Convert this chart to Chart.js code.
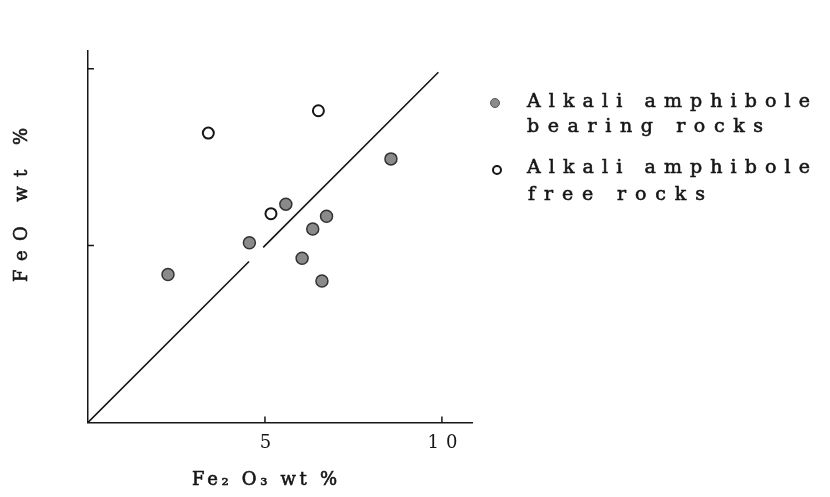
<!DOCTYPE html>
<html>
<head>
<meta charset="utf-8">
<script src="https://cdn.jsdelivr.net/npm/chart.js@4"></script>
<style>
  html, body { margin: 0; padding: 0; background: #fff; }
  #wrap { position: relative; width: 830px; height: 497px; }
</style>
</head>
<body>
<div id="wrap"><canvas id="chart" width="830" height="497"></canvas></div>
<script>
// ─────────────────────────────────────────────
// Data
// ─────────────────────────────────────────────
const xTickValues = [5, 10];
const yTickValues = [5, 10];

// Alkali amphibole bearing rocks (filled)
const bearingX = [2.26, 4.56, 5.59, 6.74, 6.35, 6.05, 6.61, 8.56];
const bearingY = [4.18, 5.08, 6.17, 5.83, 5.47, 4.64, 4.00, 7.45];

// Alkali amphibole free rocks (open)
const freeX = [3.40, 6.51, 5.17];
const freeY = [8.18, 8.81, 5.90];

// 1:1 line, with the small break in the drawn line
const lineX = [0, 4.55, 4.75, 4.95, 9.9];
const lineY = [0, 4.55, null, 4.95, 9.9];

const xTitle = 'Fe\u2082 O\u2083 wt %';
const yTitle = 'FeO wt %';
const legendFilled = ['Alkali amphibole', 'bearing rocks'];
const legendOpen   = ['Alkali amphibole', 'free rocks'];

const INK = '#161616';
const SERIF = '"DejaVu Serif", "Liberation Serif", serif';

function toPoints(xs, ys) {
  return xs.map((x, i) => ({ x: x, y: ys[i] }));
}

// draw text left-aligned, spread so it fills a given width
// (a hairline stroke gives the slightly heavy print look)
function spreadText(ctx, text, x, y, width) {
  ctx.letterSpacing = '0px';
  const natural = ctx.measureText(text).width;
  const n = [...text].length;
  const ls = n > 1 ? (width - natural) / (n - 1) : 0;
  ctx.letterSpacing = ls + 'px';
  ctx.fillText(text, x, y);
  ctx.lineWidth = 0.6;
  ctx.strokeStyle = INK;
  ctx.strokeText(text, x, y);
  ctx.letterSpacing = '0px';
}

// ─────────────────────────────────────────────
// Plugin: inward ticks, titles, legend
// ─────────────────────────────────────────────
const decorPlugin = {
  id: 'decor',
  beforeDraw(chart) {
    chart.ctx.letterSpacing = '7px';   // spaced tick digits "1 0"
  },
  afterDraw(chart) {
    const ctx = chart.ctx;
    const xs = chart.scales.x, ys = chart.scales.y;
    const area = chart.chartArea;
    ctx.save();
    ctx.letterSpacing = '0px';

    // inward tick marks
    ctx.strokeStyle = INK;
    ctx.lineWidth = 1.5;
    ctx.beginPath();
    xTickValues.forEach(v => {
      const px = xs.getPixelForValue(v);
      ctx.moveTo(px, area.bottom);
      ctx.lineTo(px, area.bottom - 6);
    });
    yTickValues.forEach(v => {
      const py = ys.getPixelForValue(v);
      ctx.moveTo(area.left, py);
      ctx.lineTo(area.left + 6, py);
    });
    ctx.stroke();

    ctx.fillStyle = INK;
    ctx.textBaseline = 'middle';
    ctx.textAlign = 'left';

    // x title
    ctx.font = '18px ' + SERIF;
    spreadText(ctx, xTitle, 192, 480, 145);

    // y title (rotated)
    ctx.save();
    ctx.translate(22, 282);
    ctx.rotate(-Math.PI / 2);
    spreadText(ctx, yTitle, 0, 0, 154);
    ctx.restore();

    // legend markers
    ctx.beginPath();
    ctx.arc(495, 103, 4.5, 0, Math.PI * 2);
    ctx.fillStyle = '#8c8c8c';
    ctx.fill();
    ctx.strokeStyle = '#555';
    ctx.lineWidth = 1;
    ctx.stroke();

    ctx.beginPath();
    ctx.arc(497, 170, 4, 0, Math.PI * 2);
    ctx.fillStyle = '#fff';
    ctx.fill();
    ctx.strokeStyle = INK;
    ctx.lineWidth = 2;
    ctx.stroke();

    // legend text
    ctx.font = '19px ' + SERIF;
    ctx.fillStyle = INK;
    spreadText(ctx, legendFilled[0], 527, 102, 283);
    spreadText(ctx, legendFilled[1], 527, 127, 236);
    spreadText(ctx, legendOpen[0], 527, 168, 283);
    spreadText(ctx, legendOpen[1], 528, 195, 177);

    ctx.restore();
  },
};

// ─────────────────────────────────────────────
// Chart
// ─────────────────────────────────────────────
const ctx = document.getElementById('chart').getContext('2d');
new Chart(ctx, {
  type: 'scatter',
  data: {
    datasets: [
      {
        label: 'Alkali amphibole bearing rocks',
        data: toPoints(bearingX, bearingY),
        backgroundColor: '#8a8a8a',
        borderColor: '#333',
        borderWidth: 1.5,
        pointRadius: 6,
      },
      {
        label: 'Alkali amphibole free rocks',
        data: toPoints(freeX, freeY),
        backgroundColor: '#fff',
        borderColor: INK,
        borderWidth: 2,
        pointRadius: 5.5,
      },
      {
        type: 'line',
        label: '1:1',
        data: toPoints(lineX, lineY),
        borderColor: INK,
        borderWidth: 1.6,
        pointRadius: 0,
        spanGaps: false,
        fill: false,
      },
    ],
  },
  options: {
    responsive: false,
    animation: false,
    events: [],
    layout: {
      autoPadding: false,
      padding: { left: 80, right: 358, top: 51, bottom: 41 },
    },
    plugins: {
      legend: { display: false },
      tooltip: { enabled: false },
    },
    scales: {
      x: {
        type: 'linear',
        min: 0,
        max: 10.85,
        afterBuildTicks: (s) => { s.ticks = xTickValues.map(v => ({ value: v })); },
        grid: { display: false },
        border: { display: true, color: INK, width: 1.5 },
        ticks: {
          color: INK,
          padding: 2,
          labelOffset: 4,
          font: { family: SERIF, size: 18 },
        },
      },
      y: {
        type: 'linear',
        min: 0,
        max: 10.5,
        afterBuildTicks: (s) => { s.ticks = yTickValues.map(v => ({ value: v })); },
        grid: { display: false },
        border: { display: true, color: INK, width: 1.5 },
        ticks: { display: false },
      },
    },
  },
  plugins: [decorPlugin],
});
</script>
</body>
</html>
